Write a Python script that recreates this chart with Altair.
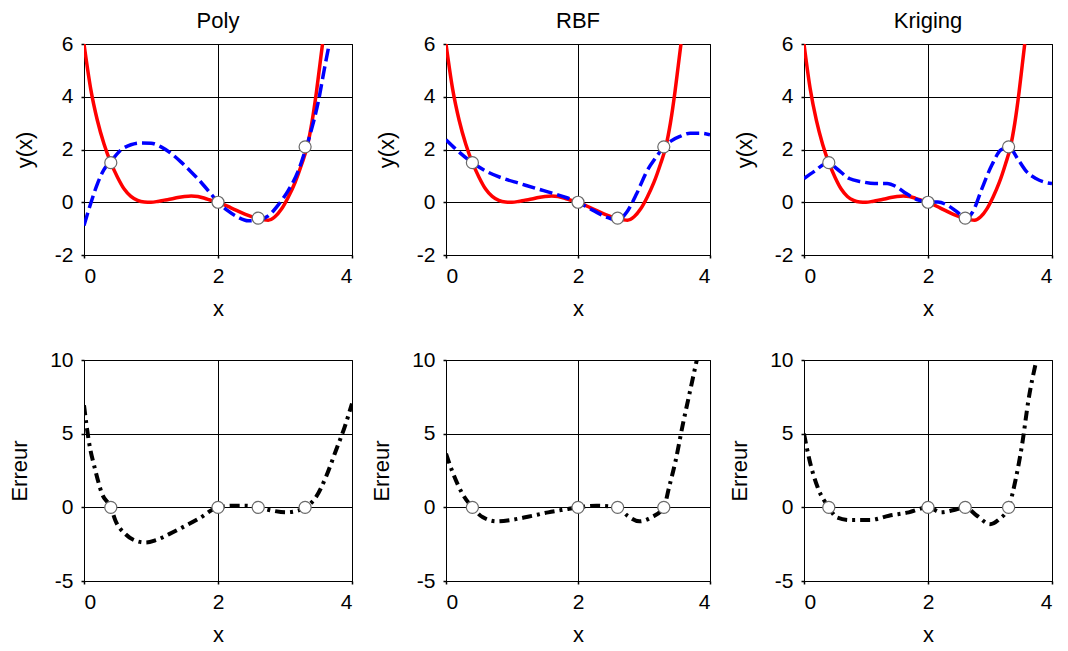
import altair as alt
import pandas as pd

FONT = "Liberation Sans"

# sample points
x_pts = [0.4, 2.0, 2.6, 3.3]
y_pts = [1.5, 0.0, -0.6, 2.1]
err_pts = [0.0, 0.0, 0.0, 0.0]

# true function (red)
x_true = [0.0, 0.1, 0.2, 0.3, 0.4, 0.5, 0.6, 0.7, 0.8, 0.9, 1.0, 1.1, 1.2, 1.3, 1.4, 1.5,
          1.6, 1.7, 1.8, 1.9, 2.0, 2.2, 2.4, 2.6, 2.75, 2.85, 2.95, 3.05, 3.15, 3.25, 3.33,
          3.4, 3.47, 3.52, 3.56]
y_true = [6.0, 4.3, 3.1, 2.2, 1.5, 0.95, 0.5, 0.22, 0.07, 0.01, 0.0, 0.03, 0.08, 0.12, 0.18, 0.22,
          0.24, 0.22, 0.15, 0.07, 0.0, -0.22, -0.45, -0.62, -0.68, -0.55, -0.25, 0.2, 0.75, 1.45, 2.1,
          3.0, 4.2, 5.2, 6.0]

# surrogates (blue dashed)
x_poly = [0.0, 0.1, 0.2, 0.3, 0.4, 0.55, 0.7, 0.85, 1.0, 1.15, 1.3, 1.45, 1.6, 1.75, 1.9, 2.0,
          2.15, 2.3, 2.45, 2.6, 2.75, 2.9, 3.05, 3.2, 3.3, 3.4, 3.5, 3.58, 3.66]
y_poly = [-0.88, -0.05, 0.7, 1.25, 1.55, 1.98, 2.18, 2.25, 2.24, 2.1, 1.85, 1.52, 1.15, 0.75, 0.3, 0.0,
          -0.33, -0.57, -0.7, -0.68, -0.52, -0.1, 0.45, 1.2, 1.95, 2.8, 3.85, 4.95, 6.0]

x_rbf = [0.0, 0.16, 0.4, 0.62, 0.87, 1.12, 1.37, 1.63, 1.83, 2.0, 2.23, 2.43, 2.6, 2.74, 2.89,
         3.04, 3.19, 3.3, 3.4, 3.55, 3.7, 3.85, 4.0]
y_rbf = [2.37, 1.99, 1.5, 1.16, 0.9, 0.71, 0.52, 0.33, 0.17, 0.0, -0.31, -0.56, -0.68, -0.37, 0.33,
         1.16, 1.73, 2.1, 2.31, 2.5, 2.62, 2.62, 2.56]

x_krig = [0.0, 0.16, 0.39, 0.52, 0.73, 0.93, 1.14, 1.34, 1.49, 1.65, 1.85, 2.0, 2.16, 2.31, 2.47,
          2.61, 2.72, 2.87, 3.03, 3.18, 3.31, 3.44, 3.59, 3.74, 3.9, 4.0]
y_krig = [0.9, 1.16, 1.5, 1.29, 0.9, 0.78, 0.71, 0.71, 0.59, 0.33, 0.08, 0.0, 0.01, -0.11, -0.37,
          -0.62, -0.37, 0.52, 1.41, 1.99, 2.08, 1.67, 1.16, 0.9, 0.75, 0.71]

# errors (black dash-dot)
x_err_poly = [0.0, 0.07, 0.17, 0.27, 0.4, 0.47, 0.62, 0.77, 0.92, 1.07, 1.27, 1.47, 1.72, 2.0,
              2.22, 2.42, 2.6, 2.82, 3.01, 3.19, 3.3, 3.46, 3.61, 3.76, 3.89, 4.0]
e_poly = [6.93, 4.55, 2.5, 0.91, 0.0, -0.91, -1.82, -2.27, -2.39, -2.23, -1.82, -1.36, -0.75, 0.0,
          0.11, 0.11, 0.0, -0.23, -0.34, -0.23, 0.0, 0.68, 2.05, 3.86, 5.45, 7.05]

x_err_rbf = [0.0, 0.09, 0.25, 0.4, 0.56, 0.77, 0.98, 1.24, 1.55, 1.81, 2.0, 2.28, 2.6, 2.75,
             2.93, 3.11, 3.3, 3.38, 3.48, 3.58, 3.69, 3.8]
e_rbf = [3.64, 2.5, 0.91, 0.0, -0.68, -0.95, -0.86, -0.64, -0.34, -0.14, 0.0, 0.11, 0.0, -0.57,
         -0.95, -0.68, 0.0, 1.36, 3.18, 5.45, 7.73, 10.0]

x_err_krig = [0.0, 0.09, 0.22, 0.4, 0.53, 0.74, 1.06, 1.37, 1.69, 2.0, 2.21, 2.42, 2.6, 2.79,
              3.0, 3.15, 3.3, 3.41, 3.52, 3.62, 3.75]
e_krig = [5.0, 3.18, 1.36, 0.0, -0.68, -0.86, -0.86, -0.57, -0.34, 0.0, -0.34, -0.18, 0.0, -0.57,
          -1.14, -0.8, 0.0, 1.82, 4.32, 7.27, 10.0]

titles = ["Poly", "RBF", "Kriging"]
widths = [268, 264, 248]
TOP_H = 211
BOT_H = 221

LBL = "'' + datum.value"


def xaxis():
    return alt.Axis(values=[0, 2, 4], title="x", grid=True, labelPadding=7,
                    titlePadding=12, labelExpr=LBL)


def yaxis(title, values, tp):
    return alt.Axis(values=values, title=title, grid=True, labelPadding=8,
                    titlePadding=tp, labelExpr=LBL)


def line(xs, ys, color, width, ydom, ytitle, yvals, tp, dash=None):
    df = pd.DataFrame({"x": xs, "y": ys})
    kw = dict(color=color, strokeWidth=width, clip=True, interpolate="monotone")
    if dash is not None:
        kw["strokeDash"] = dash
    return alt.Chart(df).mark_line(**kw).encode(
        x=alt.X("x:Q", scale=alt.Scale(domain=[0, 4], nice=False), axis=xaxis()),
        y=alt.Y("y:Q", scale=alt.Scale(domain=ydom, nice=False), axis=yaxis(ytitle, yvals, tp)),
    )


def points(xs, ys, ydom, ytitle, yvals, tp):
    df = pd.DataFrame({"x": xs, "y": ys})
    return alt.Chart(df).mark_point(shape="circle", filled=True, fill="white", stroke="#6a6a6a",
                                    strokeWidth=1.2, size=145, opacity=1).encode(
        x=alt.X("x:Q", scale=alt.Scale(domain=[0, 4], nice=False), axis=xaxis()),
        y=alt.Y("y:Q", scale=alt.Scale(domain=ydom, nice=False), axis=yaxis(ytitle, yvals, tp)),
    )


TOP_DOM = [-2, 6]
TOP_VALS = [-2, 0, 2, 4, 6]
BOT_DOM = [-5, 10]
BOT_VALS = [-5, 0, 5, 10]

surrogates = [(x_poly, y_poly), (x_rbf, y_rbf), (x_krig, y_krig)]
errors = [(x_err_poly, e_poly), (x_err_rbf, e_rbf), (x_err_krig, e_krig)]

top_panels = []
for i in range(3):
    sx, sy = surrogates[i]
    ch = alt.layer(
        line(x_true, y_true, "#ff0000", 3.5, TOP_DOM, "y(x)", TOP_VALS, 18),
        line(sx, sy, "#0000ff", 3.5, TOP_DOM, "y(x)", TOP_VALS, 18, dash=[13, 5]),
        points(x_pts, y_pts, TOP_DOM, "y(x)", TOP_VALS, 18),
    ).properties(width=widths[i], height=TOP_H,
                 title=alt.TitleParams(titles[i], frame="group", offset=0))
    top_panels.append(ch)

bot_panels = []
for i in range(3):
    ex, ey = errors[i]
    ch = alt.layer(
        line(ex, ey, "#000000", 4, BOT_DOM, "Erreur", BOT_VALS, 18, dash=[10, 5, 3, 5]),
        points(x_pts, err_pts, BOT_DOM, "Erreur", BOT_VALS, 18),
    ).properties(width=widths[i], height=BOT_H)
    bot_panels.append(ch)

chart = alt.concat(*top_panels, *bot_panels, columns=3,
                   spacing={"row": 105, "column": 94}, bounds="flush", align="each").properties(
    padding={"left": 0, "top": 1, "right": 0, "bottom": 0}
).configure_axis(
    gridColor="black", gridOpacity=1, gridWidth=1, domain=False,
    ticks=True, tickSize=3, tickColor="black", tickWidth=1.5,
    labelFont=FONT, labelFontSize=21, labelColor="black",
    titleFont=FONT, titleFontSize=22, titleFontWeight="normal", titleColor="black",
).configure_view(stroke="black", strokeWidth=1).configure_title(
    font=FONT, fontSize=22, fontWeight="normal", color="black"
)

chart.save("out.html", embed_options={"renderer": "svg", "actions": False})
